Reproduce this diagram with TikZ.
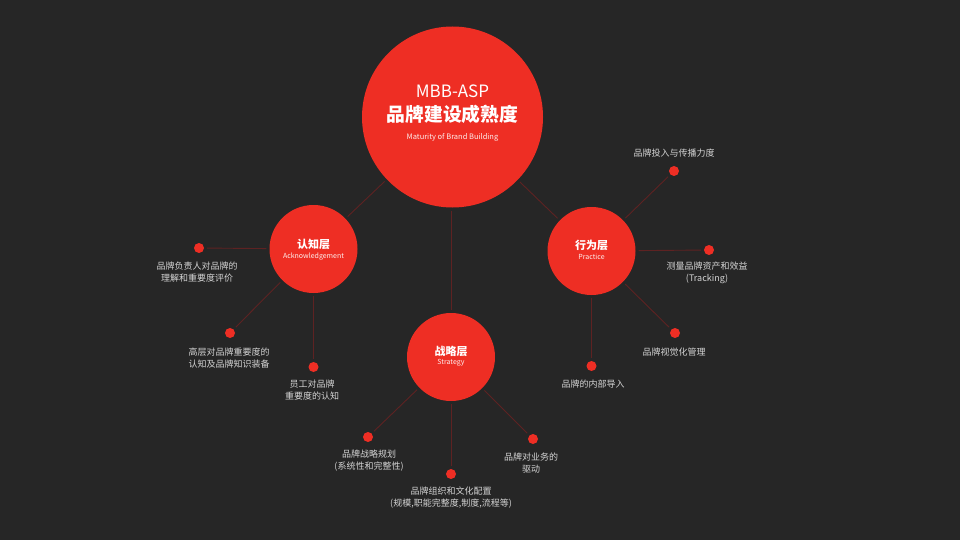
\documentclass[tikz,border=0pt]{standalone}
\usepackage{fontspec}
\newfontfamily\cjk{Noto Sans CJK SC}
\definecolor{bgc}{HTML}{262626}
\definecolor{redc}{HTML}{EE2E24}
\definecolor{linkc}{HTML}{5E2222}
\definecolor{lblc}{HTML}{D4D4D4}
\tikzset{
  maincirc/.style={circle,fill=redc,minimum size=181pt,inner sep=0pt},
  subcirc/.style={circle,fill=redc,minimum size=88pt,inner sep=0pt},
  dotc/.style={circle,fill=redc,minimum size=10pt,inner sep=0pt},
  link/.style={draw=linkc,line width=0.9pt,shorten >=3pt,shorten <=3pt},
  lbl/.style={text=lblc,font=\cjk\fontsize{9}{12}\selectfont,align=center,inner sep=0pt},
  ttl/.style={text=white,font=\cjk\bfseries\fontsize{11}{13}\selectfont,inner sep=0pt},
  sub/.style={text=white!92!redc,font=\cjk\fontsize{7}{8}\selectfont,inner sep=0pt}
}
\begin{document}
\begin{tikzpicture}[x=1pt,y=-1pt]
\fill[bgc] (0,0) rectangle (960,540);
\useasboundingbox (0,0) rectangle (960,540);

% circles
\node[maincirc] (main) at (452.5,117) {};
\node[subcirc] (ack) at (313.5,249) {};
\node[subcirc] (prac) at (591.5,251) {};
\node[subcirc] (strat) at (451,357) {};

% main text
\node[text=white,font=\cjk\fontsize{17}{20}\selectfont,inner sep=0pt] (t1) at (452.5,91) {MBB-ASP};
\node[text=white,font=\cjk\bfseries\fontsize{18.8}{22}\selectfont,inner sep=0pt] (t2) at (452.5,114) {品牌建设成熟度};
\node[text=white!92!redc,font=\cjk\fontsize{7.5}{9}\selectfont,inner sep=0pt] (t3) at (452.5,137) {Maturity of Brand Building};

\node[ttl] (ackt) at (313.5,244) {认知层};
\node[sub] (acks) at (313.5,257) {Acknowledgement};
\node[ttl] (pract) at (591.5,245) {行为层};
\node[sub] (pracs) at (591.5,257) {Practice};
\node[ttl] (stratt) at (451,351) {战略层};
\node[sub] (strats) at (451,363) {Strategy};

% main links
\draw[link] (main) -- (ack);
\draw[link] (main) -- (prac);
\draw[link] (main.south -| strat) -- (strat);

% dots
\node[dotc] (a1) at (199,248) {};
\node[dotc] (a2) at (230,333) {};
\node[dotc] (a3) at (313.5,367) {};
\node[dotc] (p1) at (674,171) {};
\node[dotc] (p2) at (709,250) {};
\node[dotc] (p3) at (675,333) {};
\node[dotc] (p4) at (591.5,366) {};
\node[dotc] (s1) at (368,437) {};
\node[dotc] (s2) at (451,474) {};
\node[dotc] (s3) at (533,439) {};

% dot links
\draw[link] (ack) -- (a1);
\draw[link] (ack) -- (a2);
\draw[link] (ack) -- (a3);
\draw[link] (prac) -- (p1);
\draw[link] (prac) -- (p2);
\draw[link] (prac) -- (p3);
\draw[link] (prac) -- (p4);
\draw[link] (strat) -- (s1);
\draw[link] (strat) -- (s2);
\draw[link] (strat) -- (s3);

% labels
\node[lbl] (la1) at (197,272) {品牌负责人对品牌的\\理解和重要度评价};
\node[lbl] (la2) at (229,358) {高层对品牌重要度的\\认知及品牌知识装备};
\node[lbl] (la3) at (312,390) {员工对品牌\\重要度的认知};
\node[lbl] (lp1) at (674,153) {品牌投入与传播力度};
\node[lbl] (lp2) at (707,273) {测量品牌资产和效益\\(Tracking)};
\node[lbl] (lp3) at (674,352) {品牌视觉化管理};
\node[lbl] (lp4) at (593,384) {品牌的内部导入};
\node[lbl] (ls1) at (369,461) {品牌战略规划\\(系统性和完整性)};
\node[lbl] (ls2) at (451,498) {品牌组织和文化配置\\(规模,职能完整度,制度,流程等)};
\node[lbl] (ls3) at (531,463) {品牌对业务的\\驱动};
\end{tikzpicture}
\end{document}
